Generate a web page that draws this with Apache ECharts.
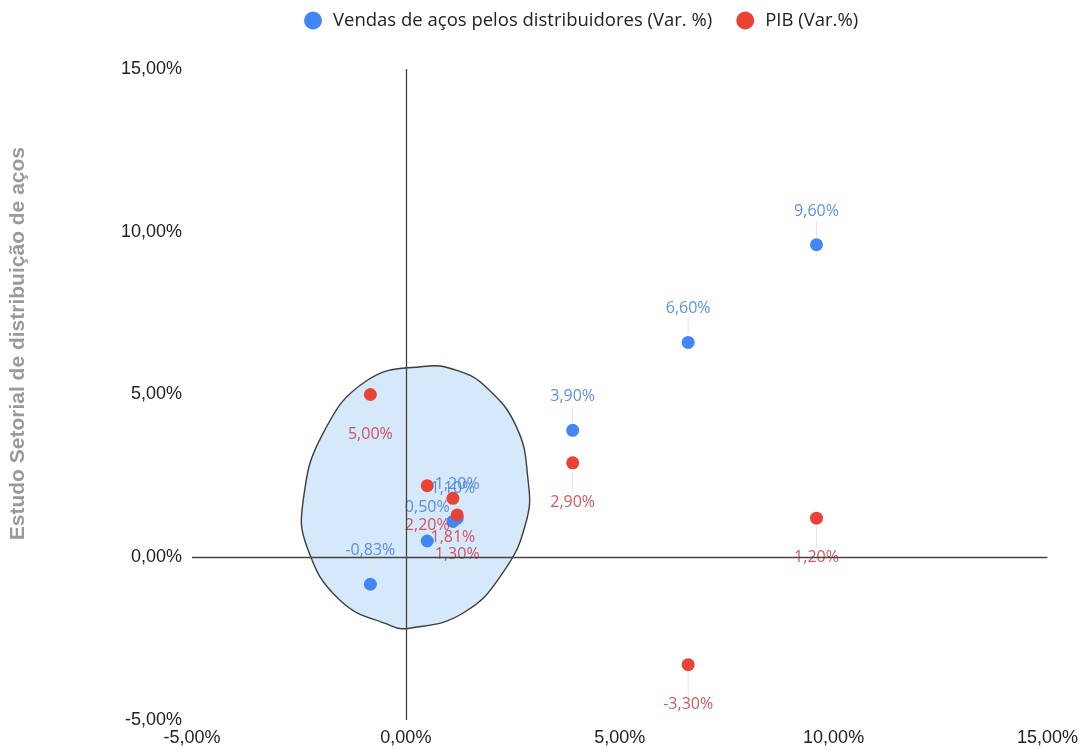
<!DOCTYPE html>
<html>
<head>
<meta charset="utf-8">
<script src="https://cdn.jsdelivr.net/npm/echarts@6/dist/echarts.min.js"></script>
<style>
  html, body { margin: 0; padding: 0; background: #fff; }
  #chart { width: 1081px; height: 750px; }
</style>
</head>
<body>
<div id="chart"></div>
<script>
// Variação das vendas de aço (eixo X e série azul) e do PIB (série vermelha)
const vendasVar = [-0.83, 0.5, 1.1, 1.2, 3.9, 6.6, 9.6];
const pibVar    = [5.0, 2.2, 1.81, 1.3, 2.9, -3.3, 1.2];
const serieNomes = ['Vendas de aços pelos distribuidores (Var. %)', 'PIB (Var.%)'];
const eixoTicks = [-5, 0, 5, 10, 15];
const tituloEixoY = 'Estudo Setorial de distribuição de aços';

// Contorno do destaque (em unidades dos eixos) ao redor do grupo de pontos próximos de zero
const destaqueContorno = [
  [0.40, 5.86], [1.19, 5.74], [1.89, 5.21], [2.59, 3.99], [2.85, 2.45],
  [2.82, 1.13], [2.26, -0.49], [1.33, -1.72], [0.09, -2.18], [-0.37, -2.09],
  [-1.54, -1.32], [-2.31, 0.31], [-2.40, 1.75], [-1.94, 3.80], [-0.91, 5.43]
];

const fmt = v => v.toFixed(2).replace('.', ',') + '%';

const azul = '#4285f4';
const vermelho = '#ea4335';
const RAIO = 6.5;

// Linha-guia fina entre cada ponto e o seu rótulo (dir: -1 acima, +1 abaixo)
function guia(dir, comprimento) {
  return function (params, api) {
    const c = api.coord([api.value(0), api.value(1)]);
    const y0 = c[1] + dir * (RAIO + 2);
    const y1 = c[1] + dir * comprimento;
    return {
      type: 'line',
      shape: { x1: c[0], y1: y0, x2: c[0], y2: y1 },
      style: { stroke: '#e4e4e4', lineWidth: 1 }
    };
  };
}

const pontosVendas = vendasVar.map(v => [v, v]);
const pontosPib = vendasVar.map((v, i) => [v, pibVar[i]]);

const chart = echarts.init(document.getElementById('chart'));

chart.setOption({
  animation: false,
  graphic: [{
    type: 'text',
    left: 8,
    top: 147,
    rotation: Math.PI / 2,
    originX: 0,
    originY: 0,
    style: {
      text: tituloEixoY,
      font: 'bold 21px "Liberation Sans"',
      fill: '#9a9a9a',
      textAlign: 'center',
      textVerticalAlign: 'middle'
    }
  }],
  legend: {
    data: serieNomes,
    top: 6,
    left: 299,
    icon: 'circle',
    itemWidth: 18,
    itemHeight: 18,
    itemGap: 24,
    textStyle: { fontFamily: 'Open Sans', fontSize: 18.5, color: '#222', padding: [0, 0, 0, 6] }
  },
  grid: { left: 192, right: 32, top: 69, bottom: 30, containLabel: false },
  xAxis: {
    type: 'value',
    min: eixoTicks[0],
    max: eixoTicks[eixoTicks.length - 1],
    interval: 5,
    axisLine: { show: false },
    axisTick: { show: false },
    splitLine: { show: false },
    axisLabel: {
      margin: 9,
      fontFamily: 'Liberation Sans',
      fontSize: 18,
      color: '#222',
      formatter: fmt
    }
  },
  yAxis: {
    type: 'value',
    min: eixoTicks[0],
    max: eixoTicks[eixoTicks.length - 1],
    interval: 5,
    axisLine: { show: false },
    axisTick: { show: false },
    splitLine: { show: false },
    axisLabel: {
      margin: 10,
      fontFamily: 'Liberation Sans',
      fontSize: 18,
      color: '#222',
      formatter: fmt
    }
  },
  series: [
    {
      type: 'custom',
      name: 'destaque',
      silent: true,
      z: 1,
      data: [[0, 0]],
      renderItem: function (params, api) {
        const pts = destaqueContorno.map(p => api.coord(p));
        return {
          type: 'polygon',
          shape: { points: pts, smooth: 0.45 },
          style: { fill: '#d6e9fb', stroke: '#3d3d3d', lineWidth: 1.4 }
        };
      },
      markLine: {
        silent: true,
        symbol: 'none',
        label: { show: false },
        lineStyle: { color: '#444', width: 1.3, type: 'solid' },
        data: [{ xAxis: 0 }, { yAxis: 0 }]
      }
    },
    {
      type: 'custom',
      name: 'guiaVendas',
      silent: true,
      z: 2,
      data: pontosVendas,
      renderItem: guia(-1, 24)
    },
    {
      type: 'custom',
      name: 'guiaPib',
      silent: true,
      z: 2,
      data: pontosPib,
      renderItem: guia(1, 30)
    },
    {
      type: 'scatter',
      name: serieNomes[0],
      z: 3,
      symbolSize: 13,
      itemStyle: { color: azul, opacity: 1 },
      data: pontosVendas,
      label: {
        show: true,
        position: 'top',
        distance: 19,
        fontFamily: 'Open Sans',
        fontSize: 16,
        color: 'rgba(66,125,225,0.85)',
        formatter: p => fmt(p.value[1])
      }
    },
    {
      type: 'scatter',
      name: serieNomes[1],
      z: 3,
      symbolSize: 13,
      itemStyle: { color: vermelho, opacity: 1 },
      data: pontosPib,
      label: {
        show: true,
        position: 'bottom',
        distance: 25,
        fontFamily: 'Open Sans',
        fontSize: 16,
        color: 'rgba(205,45,55,0.8)',
        formatter: p => fmt(p.value[1])
      }
    }
  ]
});
</script>
</body>
</html>
